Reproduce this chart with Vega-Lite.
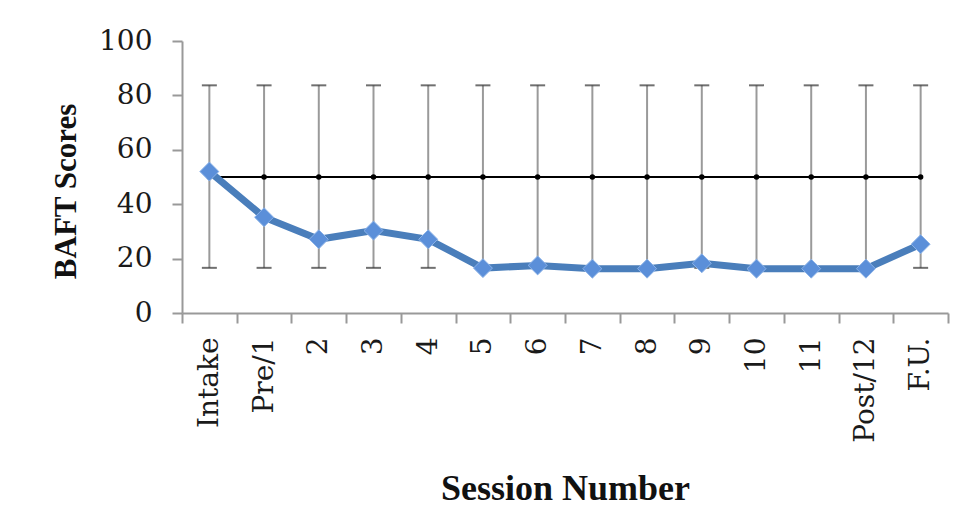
{
  "$schema": "https://vega.github.io/schema/vega-lite/v6.json",
  "autosize": {"type": "none"},
  "width": 766,
  "height": 272,
  "padding": {"left": 182, "top": 41, "right": 23, "bottom": 216},
  "background": "white",
  "config": {"view": {"stroke": null}},
  "data": {
    "values": [
      {"session": "Intake", "score": 52, "mean": 50, "lo": 16.6, "hi": 83.7},
      {"session": "Pre/1", "score": 35.2, "mean": 50, "lo": 16.6, "hi": 83.7},
      {"session": "2", "score": 27.1, "mean": 50, "lo": 16.6, "hi": 83.7},
      {"session": "3", "score": 30.3, "mean": 50, "lo": 16.6, "hi": 83.7},
      {"session": "4", "score": 27.1, "mean": 50, "lo": 16.6, "hi": 83.7},
      {"session": "5", "score": 16.5, "mean": 50, "lo": 16.6, "hi": 83.7},
      {"session": "6", "score": 17.5, "mean": 50, "lo": 16.6, "hi": 83.7},
      {"session": "7", "score": 16.3, "mean": 50, "lo": 16.6, "hi": 83.7},
      {"session": "8", "score": 16.3, "mean": 50, "lo": 16.6, "hi": 83.7},
      {"session": "9", "score": 18.3, "mean": 50, "lo": 16.6, "hi": 83.7},
      {"session": "10", "score": 16.3, "mean": 50, "lo": 16.6, "hi": 83.7},
      {"session": "11", "score": 16.3, "mean": 50, "lo": 16.6, "hi": 83.7},
      {"session": "Post/12", "score": 16.3, "mean": 50, "lo": 16.6, "hi": 83.7},
      {"session": "F.U.", "score": 25.3, "mean": 50, "lo": 16.6, "hi": 83.7}
    ]
  },
  "encoding": {
    "x": {
      "field": "session",
      "type": "nominal",
      "sort": null,
      "scale": {"paddingInner": 0, "paddingOuter": 0},
      "axis": {
        "title": "Session Number",
        "titleFont": "Liberation Serif",
        "titleFontSize": 36,
        "titleFontWeight": "bold",
        "titleColor": "#111",
        "titleBaseline": "middle",
        "titleY": 175,
        "labelAngle": -90,
        "labelFont": "DejaVu Serif",
        "labelFontSize": 28,
        "labelColor": "#1a1a1a",
        "labelPadding": 14,
        "tickBand": "extent",
        "tickSize": 10,
        "tickColor": "#999",
        "tickWidth": 2,
        "domainColor": "#999",
        "domainWidth": 2,
        "grid": false
      }
    }
  },
  "layer": [
    {
      "mark": {"type": "rule", "color": "#9a9a9a", "strokeWidth": 2},
      "encoding": {
        "y": {
          "field": "lo",
          "type": "quantitative",
          "scale": {"domain": [0, 100]},
          "axis": {
            "title": "BAFT Scores",
            "titleFont": "Liberation Serif",
            "titleFontSize": 31,
            "titleFontWeight": "bold",
            "titleColor": "#111",
            "titleBaseline": "middle",
            "titleAlign": "center",
            "titleX": -116,
            "titleY": 150,
            "values": [0, 20, 40, 60, 80, 100],
            "labelFont": "DejaVu Serif",
            "labelFontSize": 28,
            "labelColor": "#1a1a1a",
            "labelPadding": 20,
            "tickSize": 10,
            "tickColor": "#999",
            "tickWidth": 2,
            "domainColor": "#999",
            "domainWidth": 2,
            "grid": false
          }
        },
        "y2": {"field": "hi"}
      }
    },
    {
      "mark": {"type": "tick", "orient": "horizontal", "color": "#333", "size": 15, "thickness": 2},
      "encoding": {"y": {"field": "lo", "type": "quantitative"}}
    },
    {
      "mark": {"type": "tick", "orient": "horizontal", "color": "#333", "size": 15, "thickness": 2},
      "encoding": {"y": {"field": "hi", "type": "quantitative"}}
    },
    {
      "mark": {"type": "line", "color": "#000", "strokeWidth": 2},
      "encoding": {"y": {"field": "mean", "type": "quantitative"}}
    },
    {
      "mark": {"type": "point", "filled": true, "color": "#000", "size": 30, "opacity": 1},
      "encoding": {"y": {"field": "mean", "type": "quantitative"}}
    },
    {
      "mark": {"type": "line", "color": "#4a7ebb", "strokeWidth": 7},
      "encoding": {"y": {"field": "score", "type": "quantitative"}}
    },
    {
      "mark": {"type": "point", "shape": "diamond", "filled": true, "fill": "#5b8fd9", "stroke": "#8cb3e8", "strokeWidth": 1, "size": 360, "opacity": 1},
      "encoding": {"y": {"field": "score", "type": "quantitative"}}
    }
  ]
}
